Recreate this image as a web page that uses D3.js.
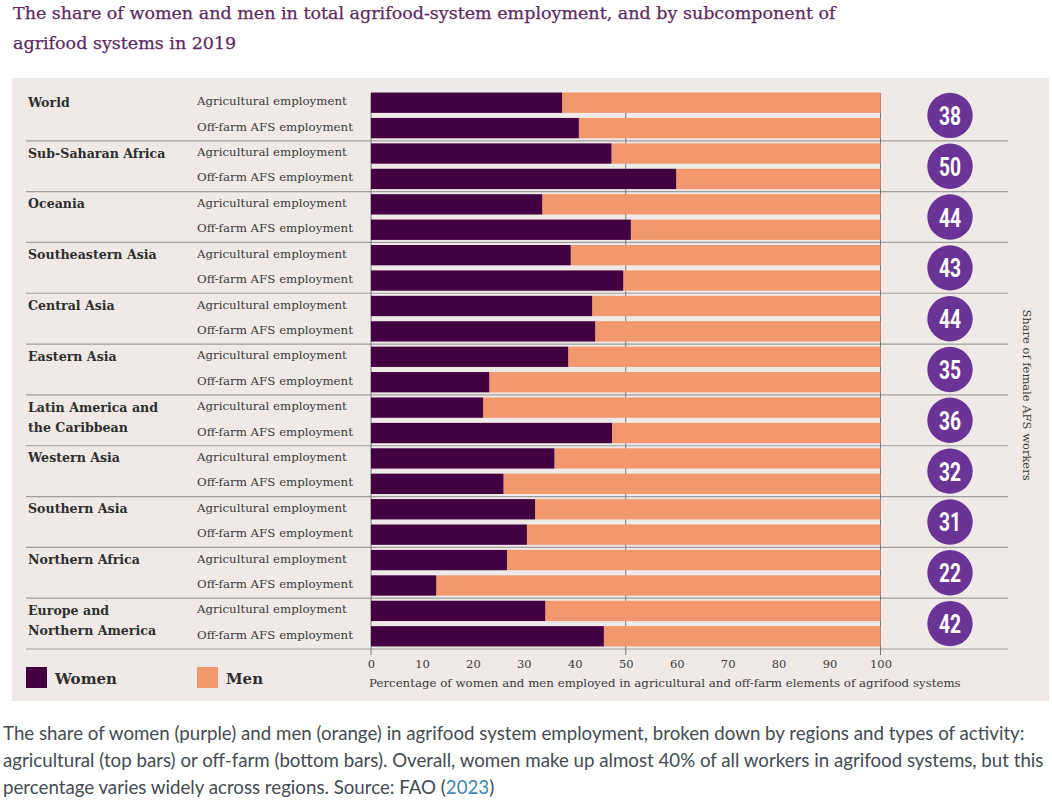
<!DOCTYPE html>
<html>
<head>
<meta charset="utf-8">
<script src="https://cdn.jsdelivr.net/npm/d3@7"></script>
<style>
  html, body { margin: 0; padding: 0; background: #fff; }
  svg { display: block; }
</style>
</head>
<body>
<svg id="chart" width="1052" height="800"></svg>
<script>
const regions = ['World', 'Sub-Saharan Africa', 'Oceania', 'Southeastern Asia', 'Central Asia', 'Eastern Asia',
  'Latin America and|the Caribbean', 'Western Asia', 'Southern Asia', 'Northern Africa', 'Europe and|Northern America']
const activities = ['Agricultural employment', 'Off-farm AFS employment']
const womenAgricultural = [37.5, 47.2, 33.6, 39.2, 43.4, 38.7, 22, 36, 32.2, 26.7, 34.2]
const womenOffFarm = [40.8, 59.9, 51, 49.5, 44, 23.2, 47.3, 26, 30.6, 12.8, 45.7]
const femaleShare = [38, 50, 44, 43, 44, 35, 36, 32, 31, 22, 42]
const xTicks = [0, 10, 20, 30, 40, 50, 60, 70, 80, 90, 100]
const gridTicks = [0, 50, 100]
const titleLines = ['The share of women and men in total agrifood-system employment, and by subcomponent of', 'agrifood systems in 2019']
const captionLines = [
  'The share of women (purple) and men (orange) in agrifood system employment, broken down by regions and types of activity:',
  'agricultural (top bars) or off-farm (bottom bars). Overall, women make up almost 40% of all workers in agrifood systems, but this',
  'percentage varies widely across regions. Source: FAO ('
]

const serif = '"DejaVu Serif", serif'
const sans = '"Lato", sans-serif'
const purple = '#430040'
const orange = '#f1996d'

const svg = d3.select('#chart')

// rows: two bars per region
const rows = []
regions.forEach((r, i) => {
  rows.push({ region: i, activity: 0, women: womenAgricultural[i] })
  rows.push({ region: i, activity: 1, women: womenOffFarm[i] })
})

const x = d3.scaleLinear().domain([0, 100]).range([371, 880.5])
const y = d3.scaleBand().domain(d3.range(rows.length)).range([90, 649]).paddingInner(0.2).paddingOuter(0.1)
const groupY = d3.scaleBand().domain(d3.range(regions.length)).range([90, 649])

svg.selectAll('text.title').data(titleLines).join('text')
  .attr('class', 'title')
  .attr('x', 13)
  .attr('y', (d, i) => 18.5 + i * 30.5)
  .attr('font-family', serif)
  .attr('font-size', 17.5)
  .attr('fill', '#5c2a60')
  .attr('stroke', '#5c2a60')
  .attr('stroke-width', 0.25)
  .text(d => d)

svg.append('rect')
  .attr('x', 12).attr('y', 78)
  .attr('width', 1037).attr('height', 623)
  .attr('fill', '#efeae8')

// separators
svg.selectAll('line.sep').data(regions).join('line')
  .attr('class', 'sep')
  .attr('x1', 26).attr('x2', 1008)
  .attr('y1', (d, i) => groupY(i) + groupY.bandwidth())
  .attr('y2', (d, i) => groupY(i) + groupY.bandwidth())
  .attr('stroke', '#a09d9b')
  .attr('stroke-width', 1.2)

svg.selectAll('line.grid').data(gridTicks).join('line')
  .attr('class', 'grid')
  .attr('x1', d => x(d)).attr('x2', d => x(d))
  .attr('y1', 93).attr('y2', 655)
  .attr('stroke', '#777')
  .attr('stroke-width', 1)

svg.selectAll('rect.men').data(rows).join('rect')
  .attr('class', 'men')
  .attr('x', d => x(d.women))
  .attr('y', (d, i) => y(i))
  .attr('width', d => x(100) - x(d.women))
  .attr('height', y.bandwidth())
  .attr('fill', orange)

svg.selectAll('rect.women').data(rows).join('rect')
  .attr('class', 'women')
  .attr('x', x(0))
  .attr('y', (d, i) => y(i))
  .attr('width', d => x(d.women) - x(0))
  .attr('height', y.bandwidth())
  .attr('fill', purple)

svg.selectAll('text.activity').data(rows).join('text')
  .attr('class', 'activity')
  .attr('x', 197)
  .attr('y', (d, i) => y(i) + 12.7)
  .attr('font-family', serif)
  .attr('font-size', 11.8)
  .attr('fill', '#3a3a3a')
  .text(d => activities[d.activity])

const regionText = svg.selectAll('text.region').data(regions).join('text')
  .attr('class', 'region')
  .attr('font-family', serif)
  .attr('font-size', 12.6)
  .attr('font-weight', 700)
  .attr('fill', '#2e2e2e')
regionText.selectAll('tspan').data((d, i) => d.split('|').map(t => ({ t, i }))).join('tspan')
  .attr('x', 28)
  .attr('y', (d, j) => groupY(d.i) + 16.7 + j * 20)
  .text(d => d.t)

svg.selectAll('circle.share').data(femaleShare).join('circle')
  .attr('class', 'share')
  .attr('cx', 950)
  .attr('cy', (d, i) => groupY(i) + groupY.bandwidth() / 2)
  .attr('r', 22.7)
  .attr('fill', '#6a3496')

svg.selectAll('text.share').data(femaleShare).join('text')
  .attr('class', 'share')
  .attr('x', 950)
  .attr('y', (d, i) => groupY(i) + groupY.bandwidth() / 2 + 9.5)
  .attr('text-anchor', 'middle')
  .attr('font-family', '"Roboto", sans-serif')
  .attr('font-size', 26)
  .attr('font-weight', 700)
  .attr('textLength', 22)
  .attr('lengthAdjust', 'spacingAndGlyphs')
  .attr('fill', '#fff')
  .text(d => d)

svg.append('text')
  .attr('transform', 'translate(1023,395) rotate(90)')
  .attr('text-anchor', 'middle')
  .attr('font-family', serif)
  .attr('font-size', 11.5)
  .attr('fill', '#3a3a3a')
  .text('Share of female AFS workers')

// x axis labels
const axis = svg.append('g')
  .attr('transform', 'translate(0,656.5)')
  .call(d3.axisBottom(x).tickValues(xTicks).tickSize(0).tickPadding(3))
axis.select('.domain').remove()
axis.selectAll('text')
  .attr('font-family', serif)
  .attr('font-size', 11.5)
  .attr('fill', '#3a3a3a')

svg.append('text')
  .attr('x', 369).attr('y', 687)
  .attr('font-family', serif)
  .attr('font-size', 11.8)
  .attr('fill', '#3a3a3a')
  .text('Percentage of women and men employed in agricultural and off-farm elements of agrifood systems')

// legend
const legendNames = ['Women', 'Men']
const legendColors = [purple, orange]
const legendX = d3.scaleOrdinal().domain(legendNames).range([26, 197])
svg.selectAll('rect.legend').data(legendNames).join('rect')
  .attr('class', 'legend')
  .attr('x', d => legendX(d)).attr('y', 667)
  .attr('width', 21).attr('height', 21)
  .attr('fill', (d, i) => legendColors[i])
svg.selectAll('text.legend').data(legendNames).join('text')
  .attr('class', 'legend')
  .attr('x', d => legendX(d) + 29).attr('y', 684)
  .attr('font-family', serif)
  .attr('font-size', 15)
  .attr('font-weight', 700)
  .attr('fill', '#2e2e2e')
  .text(d => d)

// caption
const caption = svg.selectAll('text.caption').data(captionLines).join('text')
  .attr('class', 'caption')
  .attr('x', 3)
  .attr('y', (d, i) => 740 + i * 27)
  .attr('font-family', sans)
  .attr('font-size', 18.7)
  .attr('fill', '#444b52')
  .text(d => d)
d3.select(caption.nodes()[2]).append('tspan').attr('fill', '#3f87b5').text('2023')
d3.select(caption.nodes()[2]).append('tspan').text(')')
</script>
</body>
</html>
